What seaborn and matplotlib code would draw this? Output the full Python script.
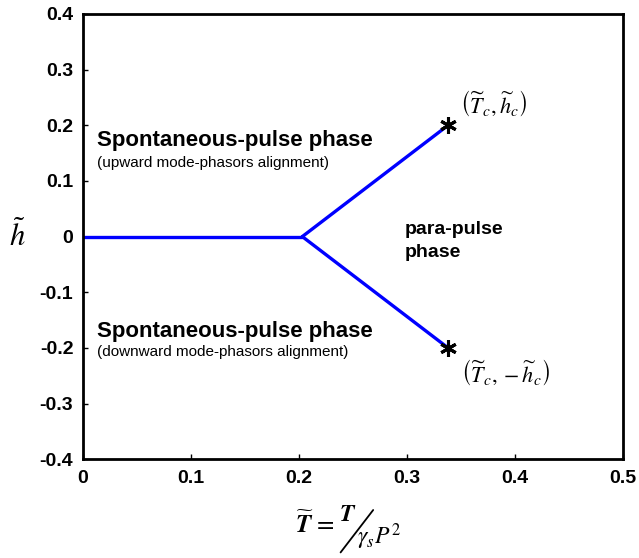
import matplotlib
matplotlib.use("Agg")
import matplotlib.pyplot as plt
import seaborn as sns
import pandas as pd

# phase boundary segments (T~, h~)
flat_T = [0.0, 0.203]
flat_h = [0.0, 0.0]
upper_T = [0.203, 0.338]
upper_h = [0.0, 0.2]
lower_T = [0.203, 0.338]
lower_h = [0.0, -0.2]
crit_T = [0.338, 0.338]
crit_h = [0.2, -0.2]

xticks = [0, 0.1, 0.2, 0.3, 0.4, 0.5]
yticks = [-0.4, -0.3, -0.2, -0.1, 0, 0.1, 0.2, 0.3, 0.4]

sns.set_theme(style="white")
plt.rcParams['font.family'] = ['Liberation Sans', 'DejaVu Sans']
plt.rcParams['mathtext.fontset'] = 'stix'
plt.rcParams['text.color'] = 'black'

fig = plt.figure(figsize=(6.39, 5.58), dpi=100)
ax = fig.add_axes([0.130, 0.177, 0.845, 0.798])

for T, h in [(flat_T, flat_h), (upper_T, upper_h), (lower_T, lower_h)]:
    seg = pd.DataFrame({'T': T, 'h': h})
    sns.lineplot(data=seg, x='T', y='h', ax=ax, color='#0000ff', linewidth=2.4,
                 sort=False, estimator=None)

ax.plot(crit_T, crit_h, linestyle='none', marker=(6, 2, 0), markersize=12,
        markeredgewidth=2.2, color='black', zorder=5)

ax.set_xlim(0, 0.5)
ax.set_ylim(-0.4, 0.4)
ax.set_xticks(xticks)
ax.set_yticks(yticks)
ax.set_xticklabels([f"{t:g}" for t in xticks], fontsize=14, fontweight='bold')
ax.set_yticklabels([f"{t:g}" for t in yticks], fontsize=14, fontweight='bold')
ax.tick_params(axis='x', direction='in', length=3.5, width=1, pad=8, colors='black', bottom=True)
ax.tick_params(axis='y', direction='in', length=3.5, width=1, pad=7, colors='black', left=True)
ax.set_xlabel('')
ax.set_ylabel('')
for s in ax.spines.values():
    s.set_color('black')
    s.set_linewidth(2)

# x label: T~ = T / (gamma_s P^2), built from pieces
fig.text(0.462, 0.045, r'$\widetilde{\boldsymbol{T}}\,=$', fontsize=18, va='baseline')
fig.text(0.530, 0.066, r'$\boldsymbol{T}$', fontsize=17, va='baseline')
fig.add_artist(plt.Line2D([0.533, 0.584], [0.010, 0.086], color='black',
                          linewidth=1.3, transform=fig.transFigure))
fig.text(0.559, 0.024, r'$\boldsymbol{\gamma_s P^2}$', fontsize=17, va='baseline')

fig.text(0.014, 0.559, r'$\tilde{h}$', fontsize=22, va='baseline')

ax.text(0.013, 0.163, 'Spontaneous-pulse phase', fontsize=16, fontweight='bold', va='baseline')
ax.text(0.013, 0.125, '(upward mode-phasors alignment)', fontsize=11, va='baseline')
ax.text(0.013, -0.181, 'Spontaneous-pulse phase', fontsize=16, fontweight='bold', va='baseline')
ax.text(0.013, -0.215, '(downward mode-phasors alignment)', fontsize=11, va='baseline')
ax.text(0.298, 0.005, 'para-pulse', fontsize=14, fontweight='bold', va='baseline')
ax.text(0.298, -0.037, 'phase', fontsize=14, fontweight='bold', va='baseline')

ax.text(0.349, 0.24, r'$\left(\widetilde{T}_c,\widetilde{h}_c\right)$', fontsize=16, va='center')
ax.text(0.350, -0.244, r'$\left(\widetilde{T}_c,-\widetilde{h}_c\right)$', fontsize=16, va='center')

fig.savefig('out.png', dpi=100)
